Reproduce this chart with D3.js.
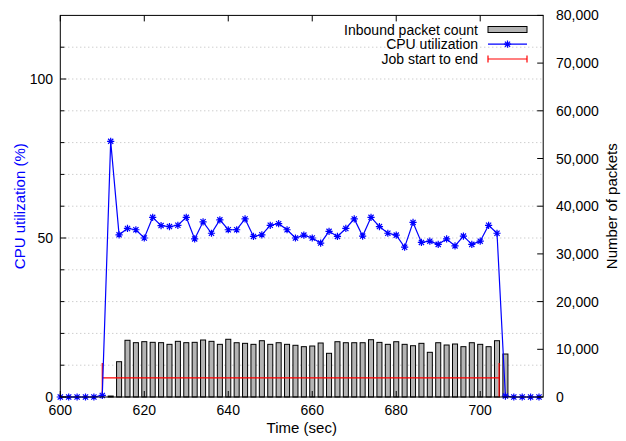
<html>
  <head>
    <script src="https://d3js.org/d3.v7.min.js"></script>
    <style>
      body { margin: 0; background: #fff; }
      text { font-family: "Liberation Sans", Arial, sans-serif; }
    </style>
  </head>
  <body>
    <div id="chart"></div>
    <script>
      // CPU utilization samples (every 2 sec)
      const cpuTime = [600, 602, 604, 606, 608, 610, 612, 614, 616, 618, 620, 622, 624, 626, 628, 630,
        632, 634, 636, 638, 640, 642, 644, 646, 648, 650, 652, 654, 656, 658, 660, 662, 664, 666, 668,
        670, 672, 674, 676, 678, 680, 682, 684, 686, 688, 690, 692, 694, 696, 698, 700, 702, 704, 706,
        708, 710, 712, 714];
      const cpuValue = [0, 0, 0, 0, 0, 0.5, 80.4, 51.0, 53.0, 52.6, 50.0, 56.5, 53.9, 53.6, 54.0, 56.5,
        49.7, 55.1, 51.5, 55.7, 52.6, 52.6, 56.0, 50.5, 51.0, 54.0, 54.5, 52.6, 50.0, 50.9, 50.0, 48.4,
        52.1, 50.5, 53.0, 56.0, 50.6, 56.5, 53.6, 51.5, 50.9, 47.1, 54.9, 48.6, 49.0, 48.0, 49.7, 47.5,
        50.6, 48.0, 49.0, 54.0, 51.5, 0.3, 0, 0, 0, 0];

      // inbound packets per interval
      const packetTime = [612, 614, 616, 618, 620, 622, 624, 626, 628, 630, 632, 634, 636, 638, 640,
        642, 644, 646, 648, 650, 652, 654, 656, 658, 660, 662, 664, 666, 668, 670, 672, 674, 676, 678,
        680, 682, 684, 686, 688, 690, 692, 694, 696, 698, 700, 702, 704, 706];
      const packetCount = [200, 7400, 11890, 11390, 11600, 11460, 11390, 11040, 11670, 11390, 11460,
        11950, 11670, 11040, 12100, 11380, 11250, 11040, 11800, 11040, 11380, 11040, 10840, 10550,
        10690, 11320, 9160, 11590, 11380, 11380, 11380, 12010, 11450, 11040, 11590, 11040, 10750,
        11250, 9370, 11380, 10900, 11110, 10550, 11380, 11040, 10550, 11800, 9010];

      // job start / end (x) drawn at a cpu level, with caps
      const jobSpan = [610, 704.5];
      const jobLevel = 6;
      const jobCap = [0, 10.7];

      const xTicks = [600, 620, 640, 660, 680, 700];
      const yTicks = [0, 50, 100];
      const yMinorTicks = [10, 20, 30, 40, 60, 70, 80, 90, 110];
      const y2Ticks = [0, 10000, 20000, 30000, 40000, 50000, 60000, 70000, 80000];

      const legendLabels = ["Inbound packet count", "CPU utilization", "Job start to end"];

      const width = 626, height = 441;
      const mLeft = 60.3, mRight = 543.2, mTop = 15.4, mBottom = 397;

      const svg = d3.select("#chart").append("svg")
        .attr("width", width).attr("height", height);

      svg.append("rect").attr("width", width).attr("height", height).attr("fill", "#fff");

      const x = d3.scaleLinear().domain([600, 715]).range([mLeft, mRight]);
      const y = d3.scaleLinear().domain([0, 120]).range([mBottom, mTop]);
      const y2 = d3.scaleLinear().domain([0, 80000]).range([mBottom, mTop]);

      // grid
      svg.append("g").selectAll("line")
        .data(yTicks.concat(yMinorTicks).filter(d => d > 0))
        .join("line")
        .attr("x1", mLeft).attr("x2", mRight)
        .attr("y1", d => y(d)).attr("y2", d => y(d))
        .attr("stroke", "#b8b8b8").attr("stroke-width", 1)
        .attr("stroke-dasharray", "1 3");

      // bars
      const barW = x(601.2) - x(600);
      svg.append("g").selectAll("rect")
        .data(packetTime)
        .join("rect")
        .attr("x", d => x(d) - barW / 2)
        .attr("y", (d, i) => y2(packetCount[i]))
        .attr("width", barW)
        .attr("height", (d, i) => mBottom - y2(packetCount[i]))
        .attr("fill", "#b4b4b4")
        .attr("stroke", "#000").attr("stroke-width", 1);

      // job span
      const job = svg.append("g").attr("stroke", "#ff0000").attr("stroke-width", 1.2);
      job.append("line")
        .attr("x1", x(jobSpan[0])).attr("x2", x(jobSpan[1]))
        .attr("y1", y(jobLevel)).attr("y2", y(jobLevel));
      job.selectAll(".cap").data(jobSpan).join("line").attr("class", "cap")
        .attr("x1", d => x(d)).attr("x2", d => x(d))
        .attr("y1", y(jobCap[0])).attr("y2", y(jobCap[1]));

      // cpu line
      const line = d3.line().x((d, i) => x(cpuTime[i])).y(d => y(d));
      svg.append("path").datum(cpuValue)
        .attr("fill", "none").attr("stroke", "#0000ff").attr("stroke-width", 1.2)
        .attr("d", line);

      function star(r) {
        const s = r * 0.72;
        return `M${-r},0H${r}M0,${-r}V${r}M${-s},${-s}L${s},${s}M${-s},${s}L${s},${-s}`;
      }

      svg.append("g").selectAll("path")
        .data(cpuValue)
        .join("path")
        .attr("transform", (d, i) => `translate(${x(cpuTime[i])},${y(d)})`)
        .attr("d", star(3.6))
        .attr("fill", "none").attr("stroke", "#0000ff").attr("stroke-width", 1.2);

      // frame
      svg.append("rect")
        .attr("x", mLeft).attr("y", mTop)
        .attr("width", mRight - mLeft).attr("height", mBottom - mTop)
        .attr("fill", "none").attr("stroke", "#000").attr("stroke-width", 1);

      // ticks
      const tk = svg.append("g").attr("stroke", "#000").attr("stroke-width", 1);
      xTicks.forEach(t => {
        tk.append("line").attr("x1", x(t)).attr("x2", x(t)).attr("y1", mBottom).attr("y2", mBottom - 6);
        tk.append("line").attr("x1", x(t)).attr("x2", x(t)).attr("y1", mTop).attr("y2", mTop + 6);
      });
      yTicks.forEach(t => {
        tk.append("line").attr("x1", mLeft).attr("x2", mLeft + 6).attr("y1", y(t)).attr("y2", y(t));
      });
      yMinorTicks.forEach(t => {
        tk.append("line").attr("x1", mLeft).attr("x2", mLeft + 4).attr("y1", y(t)).attr("y2", y(t));
      });
      y2Ticks.forEach(t => {
        tk.append("line").attr("x1", mRight).attr("x2", mRight - 6).attr("y1", y2(t)).attr("y2", y2(t));
      });

      const labels = svg.append("g").attr("font-size", 14).attr("fill", "#000");
      labels.selectAll(".xl").data(xTicks).join("text").attr("class", "xl")
        .attr("x", d => x(d)).attr("y", 415).attr("text-anchor", "middle").text(d => d);
      labels.selectAll(".yl").data(yTicks).join("text").attr("class", "yl")
        .attr("x", 53).attr("y", d => y(d)).attr("dy", "0.36em")
        .attr("text-anchor", "end").text(d => d);
      labels.selectAll(".y2l").data(y2Ticks).join("text").attr("class", "y2l")
        .attr("x", 556).attr("y", d => y2(d)).attr("dy", "0.36em")
        .attr("text-anchor", "start").text(d => d3.format(",")(d));

      svg.append("text").attr("x", (mLeft + mRight) / 2).attr("y", 433)
        .attr("text-anchor", "middle").attr("font-size", 15).text("Time (sec)");
      svg.append("text").attr("transform", `translate(25,${(mTop + mBottom) / 2}) rotate(-90)`)
        .attr("text-anchor", "middle").attr("font-size", 15).attr("fill", "#0000ff")
        .text("CPU utilization (%)");
      svg.append("text").attr("transform", `translate(617,${(mTop + mBottom) / 2}) rotate(-90)`)
        .attr("text-anchor", "middle").attr("font-size", 15).attr("fill", "#000")
        .text("Number of packets");

      // legend
      const lg = svg.append("g");
      const rowY = [29.5, 44.2, 59];
      const sx1 = 488, sx2 = 527;
      lg.selectAll("text").data(legendLabels).join("text")
        .attr("x", 478).attr("y", (d, i) => rowY[i]).attr("dy", "0.36em")
        .attr("text-anchor", "end").attr("font-size", 14).text(d => d);
      lg.append("rect").attr("x", sx1).attr("y", rowY[0] - 3).attr("width", sx2 - sx1).attr("height", 6)
        .attr("fill", "#b4b4b4").attr("stroke", "#000");
      lg.append("line").attr("x1", sx1).attr("x2", sx2).attr("y1", rowY[1]).attr("y2", rowY[1])
        .attr("stroke", "#0000ff").attr("stroke-width", 1.2);
      lg.append("path").attr("transform", `translate(${(sx1 + sx2) / 2},${rowY[1]})`)
        .attr("d", star(3.6)).attr("fill", "none").attr("stroke", "#0000ff").attr("stroke-width", 1.2);
      lg.append("path")
        .attr("d", `M${sx1},${rowY[2]}H${sx2}M${sx1},${rowY[2] - 3.5}V${rowY[2] + 3.5}M${sx2},${rowY[2] - 3.5}V${rowY[2] + 3.5}`)
        .attr("fill", "none").attr("stroke", "#ff0000").attr("stroke-width", 1.2);
    </script>
  </body>
</html>
